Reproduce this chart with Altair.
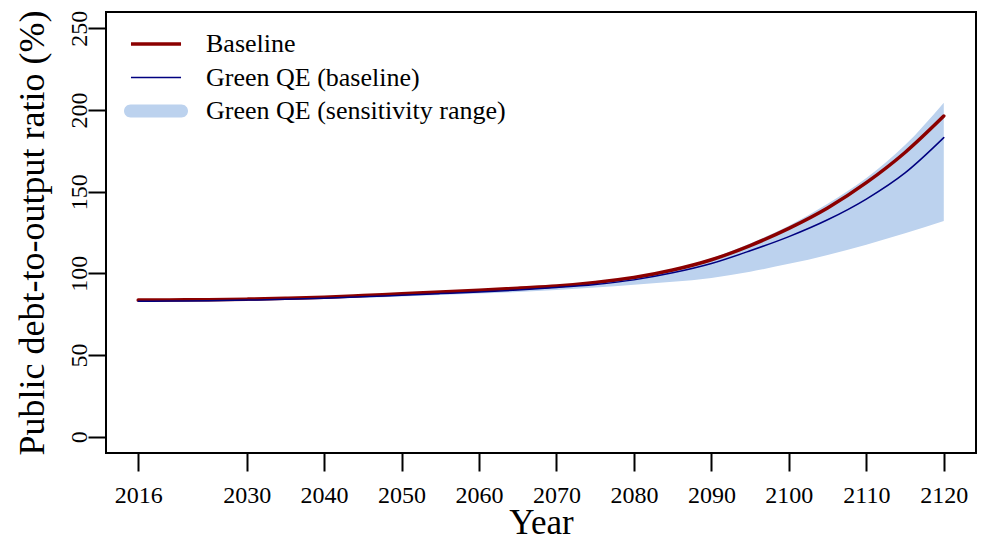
import altair as alt
import pandas as pd

# debt-to-output ratio (%)
years = [2016, 2020, 2025, 2030, 2035, 2040, 2045, 2050, 2055, 2060, 2065,
         2070, 2075, 2080, 2085, 2090, 2095, 2100, 2105, 2110, 2115, 2120]
baseline = [83.6, 83.7, 83.9, 84.2, 84.7, 85.4, 86.4, 87.5, 88.5, 89.6, 90.9,
            92.2, 94.4, 97.4, 102.0, 108.3, 117.0, 127.5, 140.0, 155.5, 174.0, 196.3]
green_qe = [82.9, 83.0, 83.2, 83.6, 84.1, 84.8, 85.6, 86.6, 87.6, 88.6, 89.8,
            91.3, 93.2, 96.0, 100.3, 106.0, 113.8, 122.5, 132.8, 145.5, 161.5, 183.1]
band_low = [82.5, 82.6, 82.8, 83.2, 83.7, 84.3, 85.0, 85.8, 86.7, 87.6, 88.6,
            89.8, 91.3, 93.0, 94.8, 97.2, 101.0, 105.8, 111.3, 117.5, 124.5, 132.0]
band_high = [83.8, 83.9, 84.1, 84.4, 84.9, 85.6, 86.6, 87.7, 88.8, 89.9, 91.2,
             92.6, 95.0, 98.1, 102.8, 109.2, 118.3, 129.2, 142.6, 158.3, 178.5, 204.5]

series_names = ["Baseline", "Green QE (baseline)", "Green QE (sensitivity range)"]
series_colors = ["#8B0000", "#000080", "#BCD2EE"]

x_ticks = [2016, 2030, 2040, 2050, 2060, 2070, 2080, 2090, 2100, 2110, 2120]
y_ticks = [0, 50, 100, 150, 200, 250]
x_domain = [2011.84, 2124.16]
y_domain = [-10, 260]

FONT = "Liberation Serif"

lines = pd.DataFrame({
    "year": years * 2,
    "value": baseline + green_qe,
    "series": [series_names[0]] * len(years) + [series_names[1]] * len(years),
})
band = pd.DataFrame({"year": years, "low": band_low, "high": band_high})

x_scale = alt.Scale(domain=x_domain, nice=False, zero=False)
y_scale = alt.Scale(domain=y_domain, nice=False, zero=False)

x_axis = alt.Axis(values=x_ticks, format="d", grid=False, domain=False,
                  tickSize=18, tickWidth=2, tickColor="black",
                  labelFont=FONT, labelFontSize=24, labelColor="black",
                  labelPadding=31, labelBaseline="alphabetic",
                  labelFlush=False, labelOverlap=False,
                  title="Year", titleFont=FONT, titleFontSize=35,
                  titleFontWeight="normal", titleColor="black",
                  titleX=435, titleY=80,
                  titleBaseline="alphabetic", titleAlign="center")
y_axis = alt.Axis(values=y_ticks, grid=False, domain=False,
                  tickSize=18, tickWidth=2, tickColor="black",
                  labelFont=FONT, labelFontSize=24, labelColor="black",
                  labelPadding=2, labelAngle=-90, labelAlign="center",
                  labelBaseline="alphabetic", labelFlush=False, labelOverlap=False,
                  title="Public debt-to-output ratio (%)", titleFont=FONT,
                  titleFontSize=36, titleFontWeight="normal", titleColor="black",
                  titleAngle=-90, titleX=-63, titleY=220.5,
                  titleBaseline="alphabetic", titleAlign="center")

# legend glyphs: plain strokes for the two lines, a filled capsule for the band
line_path = "M-3.85,0H3.85"
capsule_path = "M-3.92,-1H3.92A1,1 0 0 1 3.92,1H-3.92A1,1 0 0 1 -3.92,-1Z"
band_test = "datum.value == 'Green QE (sensitivity range)'"
shape_expr = f"{band_test} ? '{capsule_path}' : '{line_path}'"
width_expr = ("datum.value == 'Baseline' ? 3.5 : "
              "datum.value == 'Green QE (baseline)' ? 1.5 : 0")

legend = alt.Legend(title=None, orient="none", legendX=37, legendY=19,
                    padding=0, symbolType=alt.ExprRef(shape_expr), symbolSize=169,
                    symbolStrokeWidth=alt.ExprRef(width_expr),
                    symbolFillColor=series_colors[2],
                    labelFont=FONT, labelFontSize=26, labelColor="black",
                    labelOffset=37, labelLimit=400, rowPadding=7.5)

area = alt.Chart(band).mark_area(color=series_colors[2], opacity=1,
                                 interpolate="monotone").encode(
    x=alt.X("year:Q", scale=x_scale, axis=x_axis),
    y=alt.Y("low:Q", scale=y_scale, axis=y_axis),
    y2="high:Q",
)

curves = alt.Chart(lines).mark_line(strokeCap="round",
                                    interpolate="monotone").encode(
    x=alt.X("year:Q", scale=x_scale, axis=x_axis),
    y=alt.Y("value:Q", scale=y_scale, axis=y_axis),
    color=alt.Color("series:N",
                    scale=alt.Scale(domain=series_names, range=series_colors),
                    legend=legend),
    strokeWidth=alt.condition(alt.datum.series == "Baseline",
                              alt.value(3.5), alt.value(1.5)),
)

chart = alt.layer(area, curves).properties(
    width=870, height=441,
    autosize=alt.AutoSizeParams(type="none"),
    padding={"left": 98, "top": 4, "right": 5, "bottom": 88},
).configure(font=FONT).configure_view(stroke="black", strokeWidth=2)

chart.save("out.html", embed_options={"renderer": "svg", "actions": False})
